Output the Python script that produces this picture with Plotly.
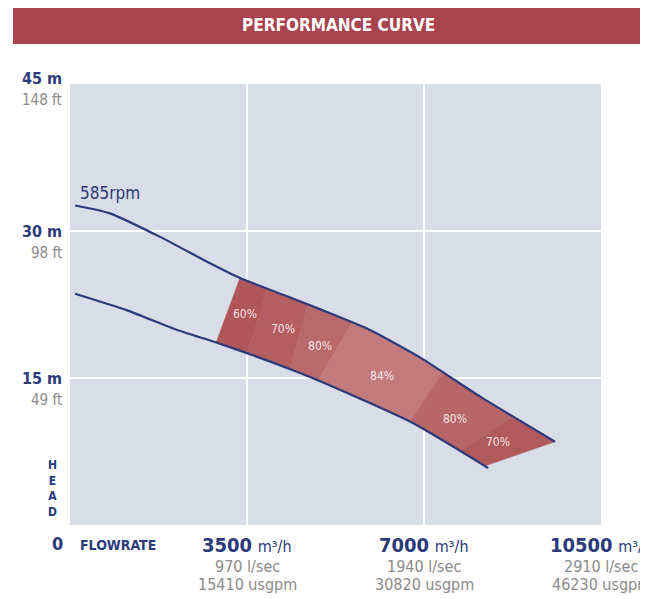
import numpy as np
import plotly.graph_objects as go

# ---- data ----
upper_x = [100, 790, 1780, 2770, 3360, 4212, 5003, 5932, 6920, 8110, 9590]
upper_y = [32.6, 31.8, 29.4, 26.7, 25.2, 23.5, 21.9, 19.9, 17.1, 13.1, 8.5]
lower_x = [100, 1130, 2120, 2907, 3895, 4548, 5200, 6780, 8270]
lower_y = [23.6, 21.9, 19.9, 18.6, 16.8, 15.5, 14.1, 10.4, 5.8]

# efficiency zone boundaries (flow position on upper / lower curve)
zone_upper_x = [3360, 3915, 4706, 5576, 7376, 8760, 9590]
zone_lower_x = [2890, 3500, 4350, 4904, 6723, 7712, 8200]
zone_labels = ["60%", "70%", "80%", "84%", "80%", "70%"]
zone_label_x = [3460, 4212, 4944, 6170, 7613, 8463]
zone_label_y = [21.4, 19.9, 18.2, 15.1, 10.7, 8.4]
zone_colors = ["#b0565a", "#b45e61", "#b9686b", "#c27a7c", "#b96669", "#b05a5e"]

x_ticks = [3500, 7000, 10500]
x_tick_main = ["3500", "7000", "10500"]
x_tick_lsec = ["970 l/sec", "1940 l/sec", "2910 l/sec"]
x_tick_gpm = ["15410 usgpm", "30820 usgpm", "46230 usgpm"]
y_ticks = [15, 30, 45]
y_tick_m = ["15 m", "30 m", "45 m"]
y_tick_ft = ["49 ft", "98 ft", "148 ft"]

NAVY = "#2b3a7a"
GRAY = "#8a8a8a"
COND = "DejaVu Sans Condensed, Liberation Sans Narrow, sans-serif"

fig = go.Figure()

# efficiency zones
for i in range(len(zone_labels)):
    tx = np.linspace(zone_upper_x[i], zone_upper_x[i + 1], 30)
    ty = np.interp(tx, upper_x, upper_y)
    bx = np.linspace(zone_lower_x[i + 1], zone_lower_x[i], 30)
    by = np.interp(bx, lower_x, lower_y)
    px = list(tx) + list(bx) + [tx[0]]
    py = list(ty) + list(by) + [ty[0]]
    fig.add_trace(go.Scatter(x=px, y=py, mode="lines", fill="toself",
                             fillcolor=zone_colors[i], line=dict(width=0.5, color=zone_colors[i]),
                             hoverinfo="skip", showlegend=False))

# curves
for cx, cy in ((upper_x, upper_y), (lower_x, lower_y)):
    fig.add_trace(go.Scatter(x=cx, y=cy, mode="lines",
                             line=dict(color=NAVY, width=2.2, shape="spline", smoothing=0.6),
                             hoverinfo="skip", showlegend=False))

# zone labels
fig.add_trace(go.Scatter(x=zone_label_x, y=zone_label_y, mode="text", text=zone_labels,
                         textfont=dict(color="rgba(255,255,255,0.85)", size=12, family=COND),
                         hoverinfo="skip", showlegend=False))

annotations = []
PH = 441.0
def yp(py):
    return (525 - py) / PH

# y labels
for v, m, ft in zip(y_ticks, y_tick_m, y_tick_ft):
    py = 525 - v / 45 * PH
    if v == 45:
        py = 78
    annotations.append(dict(x=-0.012, y=yp(py), xref="paper", yref="paper", xanchor="right",
                            yanchor="middle", showarrow=False, text="<b>%s</b>" % m,
                            font=dict(family=COND, size=16, color=NAVY)))
    annotations.append(dict(x=-0.012, y=yp(py + 22), xref="paper", yref="paper", xanchor="right",
                            yanchor="middle", showarrow=False, text=ft,
                            font=dict(family=COND, size=15, color=GRAY)))

annotations.append(dict(x=-0.023, y=yp(543), xref="paper", yref="paper", xanchor="center",
                        yanchor="middle", showarrow=False, text="<b>0</b>",
                        font=dict(family=COND, size=18, color=NAVY)))
annotations.append(dict(x=(52 - 70) / 531, y=yp(488), xref="paper", yref="paper", xanchor="center",
                        yanchor="middle", showarrow=False, text="<b>H<br>E<br>A<br>D</b>",
                        font=dict(family=COND, size=12, color=NAVY)))
annotations.append(dict(x=(118 - 70) / 531, y=yp(545), xref="paper", yref="paper", xanchor="center",
                        yanchor="middle", showarrow=False, text="<b>FLOWRATE</b>",
                        font=dict(family=COND, size=14, color=NAVY)))

# x labels
for v, a, b, c in zip(x_ticks, x_tick_main, x_tick_lsec, x_tick_gpm):
    annotations.append(dict(x=v, y=yp(545), xref="x", yref="paper", xanchor="center", yanchor="middle",
                            showarrow=False,
                            text="<b>%s</b> <span style='font-size:16px'>m³/h</span>" % a,
                            font=dict(family=COND, size=20, color=NAVY)))
    annotations.append(dict(x=v, y=yp(566), xref="x", yref="paper", xanchor="center", yanchor="middle",
                            showarrow=False, text=b, font=dict(family=COND, size=16, color=GRAY)))
    annotations.append(dict(x=v, y=yp(584), xref="x", yref="paper", xanchor="center", yanchor="middle",
                            showarrow=False, text=c, font=dict(family=COND, size=16, color=GRAY)))

# rpm label
annotations.append(dict(x=160, y=33.9, xref="x", yref="y", xanchor="left", yanchor="middle",
                        showarrow=False, text="585rpm",
                        font=dict(family=COND, size=17, color=NAVY)))

# title
annotations.append(dict(x=(338 - 70) / 531, y=yp(25), xref="paper", yref="paper", xanchor="center",
                        yanchor="middle", showarrow=False, text="<b>PERFORMANCE CURVE</b>",
                        font=dict(family=COND, size=17, color="white")))

fig.update_layout(
    width=640, height=591,
    margin=dict(l=62, r=47, t=76, b=74),
    paper_bgcolor="white", plot_bgcolor="#d8dde8",
    xaxis=dict(range=[0, 10500], tickvals=x_ticks, showticklabels=False, showgrid=True,
               gridcolor="white", gridwidth=2, zeroline=False, fixedrange=True),
    yaxis=dict(range=[0, 45], tickvals=y_ticks, showticklabels=False, showgrid=True,
               gridcolor="white", gridwidth=2, zeroline=False, fixedrange=True),
    annotations=annotations,
    shapes=[dict(type="rect", xref="paper", yref="paper",
                 x0=(13 - 70) / 531, x1=(660 - 70) / 531, y0=yp(44), y1=yp(5),
                 fillcolor="#a8434f", line=dict(width=0), layer="below")],
    showlegend=False,
)

fig.write_html("out.html")
